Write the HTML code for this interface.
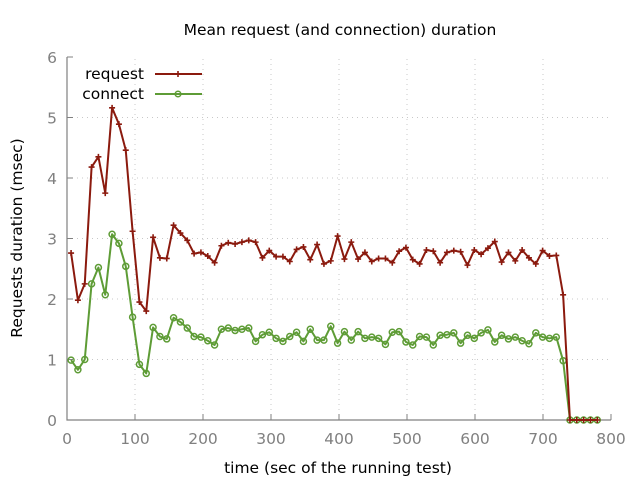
<!DOCTYPE html>
<html><head><meta charset="utf-8"><style>
body{margin:0;background:#fff}
svg{display:block;font-family:"DejaVu Sans","Liberation Sans",sans-serif}
</style></head><body>
<svg id="chart" width="640" height="480" viewBox="0 0 640 480">
<text x="340" y="35" text-anchor="middle" font-size="15.5" fill="#000">Mean request (and connection) duration</text>
<text x="338" y="473" text-anchor="middle" font-size="15.5" fill="#000">time (sec of the running test)</text>
<text transform="translate(22,238) rotate(-90)" text-anchor="middle" font-size="15.5" fill="#000">Requests duration (msec)</text>
<g id="grid"></g><g id="axes"></g><g id="series"></g>
<g>
<text x="144" y="79" text-anchor="end" font-size="15.5">request</text>
<line x1="155" y1="74" x2="202" y2="74" stroke="#8b1a0e" stroke-width="2"/>
<path d="M175,74h6M178,71v6" stroke="#8b1a0e" stroke-width="1.6"/>
<text x="144" y="99" text-anchor="end" font-size="15.5">connect</text>
<line x1="155" y1="94" x2="202" y2="94" stroke="#5e9c36" stroke-width="2"/>
<circle cx="178" cy="94" r="2.8" fill="none" stroke="#5e9c36" stroke-width="1.5"/>
</g>
</svg>
<script>
const xTicks=[0,100,200,300,400,500,600,700,800];
const yTicks=[0,1,2,3,4,5,6];
const requestMs=[2.76,1.98,2.25,4.18,4.35,3.75,5.16,4.89,4.46,3.12,1.95,1.80,3.02,2.68,2.67,3.22,3.09,2.97,2.75,2.77,2.71,2.60,2.88,2.93,2.91,2.94,2.97,2.94,2.68,2.80,2.70,2.70,2.62,2.82,2.86,2.65,2.90,2.58,2.63,3.04,2.66,2.94,2.66,2.77,2.62,2.67,2.67,2.60,2.79,2.85,2.65,2.58,2.81,2.79,2.60,2.77,2.80,2.78,2.56,2.81,2.74,2.84,2.95,2.61,2.77,2.63,2.81,2.68,2.58,2.80,2.71,2.72,2.07,0,0,0,0,0];
const connectMs=[0.99,0.83,1.00,2.25,2.52,2.07,3.07,2.92,2.54,1.70,0.92,0.77,1.53,1.38,1.34,1.69,1.62,1.52,1.38,1.37,1.31,1.24,1.50,1.52,1.48,1.50,1.52,1.30,1.41,1.45,1.35,1.30,1.38,1.45,1.30,1.50,1.32,1.32,1.55,1.27,1.46,1.32,1.46,1.35,1.37,1.35,1.25,1.45,1.46,1.29,1.24,1.38,1.37,1.24,1.40,1.41,1.44,1.27,1.40,1.35,1.44,1.49,1.29,1.40,1.34,1.37,1.31,1.26,1.44,1.37,1.35,1.37,0.98,0,0,0,0,0];
const startSec=6, stepSec=10.05;
const X0=67,X1=611,Y0=420,Y1=57;
const sx=v=>X0+(v-0)/(800-0)*(X1-X0);
const sy=v=>Y0-(v-0)/(6-0)*(Y0-Y1);
const NS="http://www.w3.org/2000/svg";
function mk(tag,attrs,parent){const e=document.createElementNS(NS,tag);for(const k in attrs)e.setAttribute(k,attrs[k]);parent.appendChild(e);return e;}
const grid=document.getElementById('grid'),axes=document.getElementById('axes'),ser=document.getElementById('series');
xTicks.forEach(t=>{
  if(t>0&&t<800){const g=mk('line',{x1:sx(t),y1:Y0,x2:sx(t),y2:Y1,stroke:'#c8c8c8','stroke-width':1,'stroke-dasharray':'1,4'},grid);
  
  }
  const tk=mk('line',{x1:sx(t),y1:Y0,x2:sx(t),y2:Y0-6,stroke:'#808080','stroke-width':1},axes);
  
  
  const tx=mk('text',{x:sx(t),y:Y0+24,'text-anchor':'middle','font-size':15.5,fill:'#808080'},axes);
  tx.textContent=t;
  
  
});
yTicks.forEach(t=>{
  if(t>0&&t<6){const g=mk('line',{x1:X0,y1:sy(t),x2:X1,y2:sy(t),stroke:'#c8c8c8','stroke-width':1,'stroke-dasharray':'1,4'},grid);
  
  }
  const tk=mk('line',{x1:X0,y1:sy(t),x2:X0+6,y2:sy(t),stroke:'#808080','stroke-width':1},axes);
  
  
  const tx=mk('text',{x:X0-10,y:sy(t)+6,'text-anchor':'end','font-size':15.5,fill:'#808080'},axes);
  tx.textContent=t;
  
  
});
const ax=mk('path',{d:`M${X0},${Y1}V${Y0}H${X1}`,fill:'none',stroke:'#808080','stroke-width':1.2},axes);


function draw(vals,color,name,marker){
  const pts=vals.map((v,i)=>[sx(startSec+stepSec*i),sy(v)]);
  const pl=mk('polyline',{points:pts.map(p=>p.join(',')).join(' '),fill:'none',stroke:color,'stroke-width':2,'stroke-linejoin':'round'},ser);
  
  
  pts.forEach(p=>{
    let m;
    if(marker==='plus'){m=mk('path',{d:`M${p[0]-3},${p[1]}h6M${p[0]},${p[1]-3}v6`,stroke:color,'stroke-width':1.6},ser);}
    else{m=mk('circle',{cx:p[0],cy:p[1],r:3,fill:'none',stroke:color,'stroke-width':1.5},ser);}
    
    
  });
}
draw(connectMs,'#5e9c36','connect','circle');
draw(requestMs,'#8b1a0e','request','plus');
</script>
</body></html>
